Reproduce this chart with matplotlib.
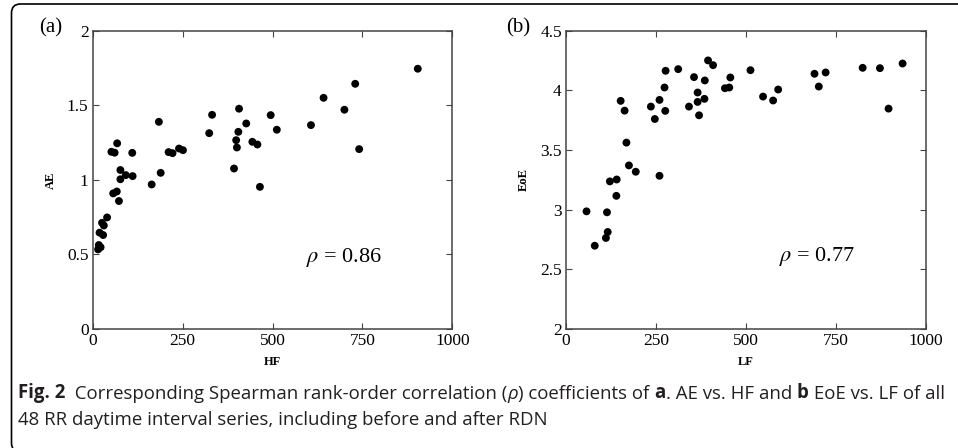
import matplotlib
matplotlib.use('Agg')
import matplotlib.pyplot as plt
from matplotlib.path import Path
from matplotlib.patches import PathPatch

plt.rcParams['mathtext.fontset'] = 'stix'

# panel (a): HF vs AE
hf = [904, 730, 642, 700, 741, 607, 512, 495, 407, 427, 405, 399, 401, 444, 458,
      393, 465, 332, 324, 184, 240, 251, 211, 222, 189, 164, 110, 111, 68, 52,
      61, 77, 77, 92, 57, 67, 73, 40, 26, 31, 19, 29, 17, 22, 15]
ae = [1.745, 1.644, 1.55, 1.47, 1.206, 1.367, 1.336, 1.434, 1.477, 1.378, 1.322,
      1.266, 1.217, 1.255, 1.237, 1.076, 0.953, 1.436, 1.313, 1.389, 1.21, 1.199,
      1.186, 1.179, 1.047, 0.969, 1.181, 1.025, 1.245, 1.188, 1.182, 1.066, 1.004,
      1.032, 0.909, 0.922, 0.858, 0.748, 0.712, 0.694, 0.646, 0.630, 0.563, 0.548,
      0.534]

# panel (b): LF vs EoE
lf = [936, 825, 873, 897, 691, 722, 703, 513, 548, 576, 590, 442, 454, 457, 395,
      409, 356, 386, 366, 366, 385, 370, 342, 312, 277, 274, 276, 260, 236, 247,
      260, 152, 163, 168, 175, 194, 122, 141, 140, 57, 114, 116, 111, 80]
eoe = [4.225, 4.189, 4.186, 3.847, 4.139, 4.15, 4.032, 4.169, 3.948, 3.915, 4.007,
       4.018, 4.024, 4.108, 4.251, 4.211, 4.111, 4.083, 3.982, 3.903, 3.929, 3.791,
       3.864, 4.178, 4.164, 4.024, 3.828, 3.92, 3.864, 3.76, 3.284, 3.912, 3.83,
       3.562, 3.371, 3.318, 3.237, 3.253, 3.116, 2.986, 2.978, 2.813, 2.763, 2.698]

xticks = [0, 250, 500, 750, 1000]
yticks_a = [0, 0.5, 1, 1.5, 2]
yticks_b = [2, 2.5, 3, 3.5, 4, 4.5]
ytick_labels_a = ['0', '0.5', '1', '1.5', '2']
ytick_labels_b = ['2', '2.5', '3', '3.5', '4', '4.5']

serif = 'Liberation Serif'
W, H = 958, 448

fig = plt.figure(figsize=(W / 100, H / 100), dpi=100)


def setup(ax, x, y, yticks, ylabels, xlabel, ylabel, tag, tag_x, rho, rho_pos, ylim):
    ax.scatter(x, y, s=32, color='black', edgecolors='none', zorder=3)
    ax.set_xlim(0, 1000)
    ax.set_ylim(*ylim)
    ax.set_xticks(xticks)
    ax.set_xticklabels([str(t) for t in xticks], family=serif, fontsize=12.5)
    ax.set_yticks(yticks)
    ax.set_yticklabels(ylabels, family=serif, fontsize=12.5)
    ax.tick_params(direction='in', length=4, width=0.8, color='#444444',
                   top=True, right=True, pad=3)
    for s in ax.spines.values():
        s.set_color('#444444')
        s.set_linewidth(1.1)
    ax.set_xlabel(xlabel, family=serif, fontweight='bold', fontsize=9, labelpad=5)
    ax.set_ylabel(ylabel, family=serif, fontweight='bold', fontsize=9)
    ax.yaxis.set_label_coords(-0.10, 0.5)
    ax.text(tag_x, 1.008, tag, transform=ax.transAxes, family=serif, fontsize=15,
            ha='right', va='center')
    ax.text(rho_pos[0], rho_pos[1], r'$\rho$ = ' + rho, family=serif, fontsize=16,
            ha='center', va='center')


ax1 = fig.add_axes([92.7 / W, 119 / H, 359.6 / W, 298.3 / H])
setup(ax1, hf, ae, yticks_a, ytick_labels_a, 'HF', 'AE', '(a)', -0.085, '0.86',
      (700, 0.48), (0, 2))

ax2 = fig.add_axes([566 / W, 119 / H, 359.6 / W, 298.3 / H])
setup(ax2, lf, eoe, yticks_b, ytick_labels_b, 'LF', 'EoE', '(b)', -0.10, '0.77',
      (698, 2.61), (2, 4.5))

# caption, built from pieces so the bold parts sit inline
cap_font = ['Open Sans', 'DejaVu Sans']
cap_size = 13.4
cap_color = '#231f20'
pieces = [('Fig. 2', 'bold'), ('  Corresponding Spearman rank-order correlation (', 'normal'),
          ('ρ', 'italic'), (') coefficients of ', 'normal'), ('a', 'bold'),
          ('. AE vs. HF and ', 'normal'), ('b', 'bold'), (' EoE vs. LF of all', 'normal')]
prev = None
for txt, st in pieces:
    kw = dict(family=cap_font, fontsize=cap_size, color=cap_color)
    if st == 'bold':
        kw['fontweight'] = 'bold'
    if st == 'italic':
        kw['fontstyle'] = 'italic'
    if prev is None:
        prev = fig.text(18 / W, 1 - 398 / H, txt, ha='left', va='baseline', **kw)
    else:
        prev = fig.add_artist(plt.Annotation(txt, xy=(1, 0), xycoords=prev,
                                             ha='left', va='bottom',
                                             annotation_clip=False, **kw))

fig.text(18 / W, 1 - 425 / H, '48 RR daytime interval series, including before and after RDN',
         family=cap_font, fontsize=cap_size, color=cap_color, ha='left', va='baseline')

# frame around the figure (rounded left corners)
r = 9
x0, yt, yb = 11.5, 4, 452
verts = [(W, yt), (x0 + r, yt), (x0, yt), (x0, yt + r), (x0, yb - r), (x0, yb), (x0 + r, yb)]
codes = [Path.MOVETO, Path.LINETO, Path.CURVE3, Path.CURVE3, Path.LINETO, Path.CURVE3, Path.CURVE3]
verts = [(vx / W, 1 - vy / H) for vx, vy in verts]
fig.add_artist(PathPatch(Path(verts, codes), fill=False, lw=1.2, edgecolor='black',
                         transform=fig.transFigure, clip_on=False))

fig.savefig('out.png', dpi=100)
